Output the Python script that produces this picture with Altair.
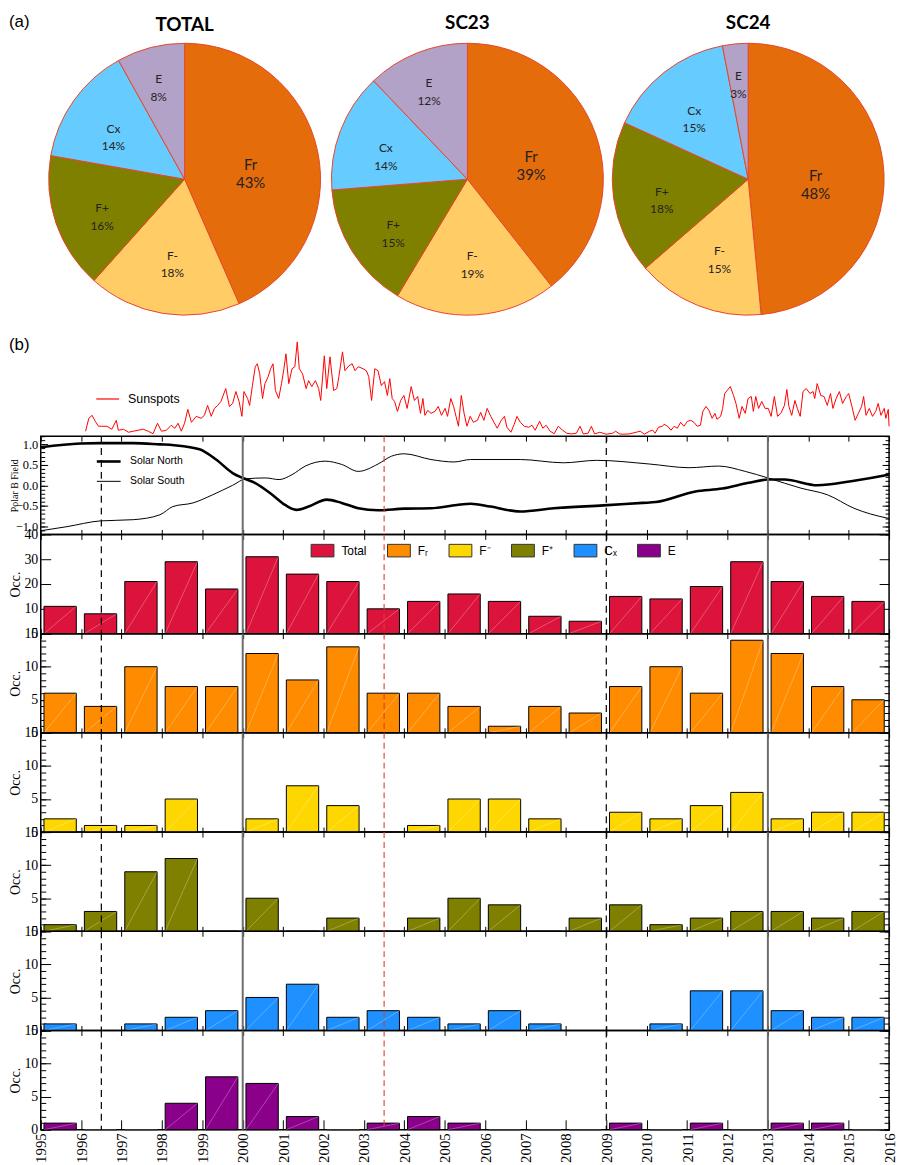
import altair as alt
import pandas as pd

# ---------------- data ----------------
pie_categories = ["Fr", "F-", "F+", "Cx", "E"]
pie_colors = ["#E46C0A", "#FFCC66", "#808000", "#66CCFF", "#B3A2C7"]
pie_titles = ["TOTAL", "SC23", "SC24"]
pie_total = [43, 18, 16, 14, 8]
pie_sc23 = [39, 19, 15, 14, 12]
pie_sc24 = [48, 15, 18, 15, 3]

years = list(range(1995, 2016))
tick_years = list(range(1995, 2017))
occ_total = [11, 8, 21, 29, 18, 31, 24, 21, 10, 13, 16, 13, 7, 5, 15, 14, 19, 29, 21, 15, 13]
occ_fr = [6, 4, 10, 7, 7, 12, 8, 13, 6, 6, 4, 1, 4, 3, 7, 10, 6, 14, 12, 7, 5]
occ_fminus = [2, 1, 1, 5, 0, 2, 7, 4, 0, 1, 5, 5, 2, 0, 3, 2, 4, 6, 2, 3, 3]
occ_fplus = [1, 3, 9, 11, 0, 5, 0, 2, 0, 2, 5, 4, 0, 2, 4, 1, 2, 3, 3, 2, 3]
occ_cx = [1, 0, 1, 2, 3, 5, 7, 2, 3, 2, 1, 3, 1, 0, 0, 1, 6, 6, 3, 2, 2]
occ_e = [1, 0, 0, 4, 8, 7, 2, 0, 1, 2, 1, 0, 0, 0, 1, 0, 1, 0, 1, 1, 0]

series_labels = ["Total", "Fᵣ", "F⁻", "F⁺", "Cₓ", "E"]
series_colors = ["#DC143C", "#FF8C00", "#FFD700", "#808000", "#1E90FF", "#8B008B"]

sunspot_points = [
    (1996.11, 3), (1996.19, 16), (1996.27, 19), (1996.35, 13), (1996.43, 8), (1996.51, 8),
    (1996.64, 8), (1996.76, 5), (1996.87, 14), (1996.92, 4), (1997.05, 5), (1997.17, 2),
    (1997.29, 3), (1997.41, 4), (1997.54, 5), (1997.66, 3), (1997.78, 0.5), (1997.89, 11),
    (1997.99, 3), (1998.11, 4), (1998.23, 9), (1998.32, 6), (1998.40, 11), (1998.48, 3),
    (1998.56, 11), (1998.64, 25), (1998.73, 12), (1998.85, 18), (1998.97, 16), (1999.05, 19),
    (1999.13, 29), (1999.22, 18), (1999.30, 26), (1999.38, 29), (1999.46, 33), (1999.58, 46),
    (1999.67, 28), (1999.75, 31), (1999.83, 43), (1999.91, 33), (1999.98, 18), (2000.03, 43),
    (2000.12, 36), (2000.17, 29), (2000.24, 49), (2000.31, 68), (2000.36, 71), (2000.42, 61),
    (2000.49, 36), (2000.55, 51), (2000.63, 58), (2000.69, 66), (2000.75, 71), (2000.81, 44),
    (2000.89, 36), (2000.96, 51), (2001.02, 66), (2001.07, 81), (2001.14, 51), (2001.22, 66),
    (2001.29, 68), (2001.35, 93), (2001.40, 66), (2001.48, 61), (2001.57, 46), (2001.63, 54),
    (2001.71, 48), (2001.80, 54), (2001.88, 46), (2001.93, 34), (2002.02, 79), (2002.08, 46),
    (2002.16, 78), (2002.25, 44), (2002.33, 46), (2002.38, 58), (2002.47, 83), (2002.53, 64),
    (2002.63, 69), (2002.71, 71), (2002.78, 64), (2002.86, 68),
    (2002.98, 66), (2003.06, 64), (2003.12, 58), (2003.19, 34), (2003.27, 66), (2003.35, 64),
    (2003.43, 49), (2003.51, 53), (2003.58, 39), (2003.64, 56), (2003.70, 36), (2003.76, 33),
    (2003.83, 23), (2003.91, 34), (2003.99, 39), (2004.07, 26), (2004.17, 48), (2004.25, 34),
    (2004.33, 38), (2004.40, 21), (2004.46, 36), (2004.51, 19), (2004.58, 24), (2004.66, 21),
    (2004.76, 23), (2004.84, 28), (2004.92, 19), (2005.01, 26), (2005.07, 18), (2005.15, 36),
    (2005.22, 28), (2005.28, 18), (2005.34, 8), (2005.41, 39), (2005.48, 21), (2005.55, 8),
    (2005.63, 18), (2005.71, 12), (2005.81, 14), (2005.89, 22), (2005.97, 14), (2006.05, 26),
    (2006.14, 18), (2006.22, 12), (2006.30, 6), (2006.40, 14), (2006.48, 18), (2006.54, 7),
    (2006.64, 2), (2006.72, 10), (2006.79, 18), (2006.87, 12), (2006.97, 8), (2007.08, 7),
    (2007.16, 9), (2007.24, 4), (2007.35, 13), (2007.43, 6), (2007.51, 9), (2007.61, 3),
    (2007.71, 0.5), (2007.81, 8), (2007.92, 4), (2008.02, 1), (2008.14, 0.3), (2008.26, 1),
    (2008.35, 8), (2008.43, 0.3), (2008.55, 1), (2008.63, 8), (2008.71, 0.3), (2008.84, 2),
    (2009.00, 0), (2009.16, 1), (2009.23, 3), (2009.33, 0.3),
    (2009.41, 0), (2009.57, 0.3), (2009.74, 2), (2009.84, 3), (2009.94, 0), (2010.07, 3),
    (2010.15, 4), (2010.21, 1), (2010.29, 7), (2010.39, 8), (2010.43, 10), (2010.52, 8),
    (2010.60, 4), (2010.68, 8), (2010.76, 6), (2010.84, 12), (2010.92, 8), (2011.01, 13),
    (2011.09, 14), (2011.17, 12), (2011.25, 8), (2011.33, 9), (2011.39, 23), (2011.47, 28),
    (2011.54, 24), (2011.62, 16), (2011.69, 21), (2011.74, 15), (2011.83, 18), (2011.88, 26),
    (2011.93, 41), (2011.99, 44), (2012.07, 48), (2012.15, 39), (2012.21, 31), (2012.29, 16),
    (2012.36, 28), (2012.44, 21), (2012.51, 36), (2012.59, 38), (2012.64, 23), (2012.70, 38),
    (2012.77, 26), (2012.85, 33), (2012.93, 26), (2013.01, 26), (2013.08, 18), (2013.16, 38),
    (2013.24, 18), (2013.32, 21), (2013.41, 29), (2013.47, 45), (2013.52, 28), (2013.59, 19),
    (2013.67, 34), (2013.73, 26), (2013.80, 18), (2013.87, 43), (2013.95, 46), (2014.04, 41),
    (2014.12, 43), (2014.16, 36), (2014.22, 51), (2014.31, 39), (2014.39, 38), (2014.47, 29),
    (2014.55, 41), (2014.61, 26), (2014.69, 36), (2014.77, 43), (2014.85, 31), (2014.94, 38),
    (2015.00, 41), (2015.08, 28), (2015.16, 14), (2015.24, 21), (2015.32, 28), (2015.37, 38),
    (2015.43, 19), (2015.51, 26), (2015.59, 18), (2015.67, 23), (2015.73, 31), (2015.80, 19),
    (2015.88, 26), (2015.92, 16), (2015.98, 25), (2016.00, 8),
]

north_points = [
    (1995.0, 0.93), (1995.98, 1.02), (1996.47, 1.03), (1997.29, 1.03), (1997.95, 1.00),
    (1998.3, 0.98), (1998.93, 0.88), (1999.34, 0.63), (1999.75, 0.30), (2000.0, 0.18),
    (2000.3, 0.06), (2000.73, -0.23), (2001.05, -0.48), (2001.33, -0.60), (2001.63, -0.52),
    (2002.08, -0.35), (2002.45, -0.43), (2002.86, -0.56), (2003.35, -0.61), (2004.0, -0.57),
    (2004.66, -0.56), (2005.3, -0.48), (2005.64, -0.45), (2006.13, -0.52), (2006.87, -0.64),
    (2007.7, -0.56), (2008.93, -0.49), (2009.9, -0.43), (2010.23, -0.41), (2011.21, -0.15),
    (2011.87, -0.08), (2012.52, 0.06), (2013.0, 0.14), (2013.41, 0.14), (2014.23, 0.0),
    (2015.06, 0.10), (2015.95, 0.25), (2016.0, 0.26),
]
south_points = [
    (1995.0, -1.11), (1995.65, -1.01), (1996.47, -0.87), (1997.29, -0.84), (1997.95, -0.72),
    (1998.27, -0.52), (1998.77, -0.43), (1999.26, -0.23), (1999.75, 0.0), (2000.08, 0.16),
    (2000.57, 0.18), (2000.9, 0.14), (2001.22, 0.26), (2001.55, 0.47), (2002.04, 0.59),
    (2002.45, 0.51), (2002.86, 0.34), (2003.35, 0.52), (2003.68, 0.71), (2004.0, 0.77),
    (2004.66, 0.63), (2005.23, 0.57), (2005.64, 0.63), (2006.87, 0.63), (2007.94, 0.55),
    (2008.76, 0.61), (2010.07, 0.52), (2011.05, 0.43), (2011.78, 0.47), (2012.44, 0.34),
    (2013.0, 0.18), (2013.82, -0.07), (2014.47, -0.23), (2015.13, -0.56), (2015.95, -0.80),
    (2016.0, -0.81),
]

event_dashed_black = [1996.5, 2009.0]
event_solid_gray = [2000.0, 2013.0]
event_dashed_red = [2003.5]

# ---------------- layout constants ----------------
W = 855
PANEL_H = 100
SERIF = "Liberation Serif"
SANS = "Liberation Sans"
xscale = alt.Scale(domain=[1995, 2016], nice=False, zero=False)
frame = alt.ViewBackground(stroke="black", strokeWidth=1.5)


# ---------------- pies ----------------
def pie(title, vals, width, tag=None):
    df = pd.DataFrame({"cat": pie_categories, "pct": vals, "idx": list(range(len(vals)))})
    arcs = alt.Chart(df).mark_arc(radius=137, stroke="#E8452C", strokeWidth=1).encode(
        theta=alt.Theta("pct:Q", stack=True),
        order=alt.Order("idx:Q"),
        color=alt.Color("cat:N", scale=alt.Scale(domain=pie_categories, range=pie_colors), legend=None),
    )
    text = alt.Chart(df).transform_window(
        cum="sum(pct)", sort=[alt.SortField("idx")]
    ).transform_calculate(
        mid="datum.cum - datum.pct / 2",
        lbl="datum.cat + '\\n' + datum.pct + '%'",
        lr="datum.cat == 'Fr' ? 68 : (datum.cat == 'E' ? 104 : (datum.cat == 'F-' ? 78 : 88))",
    ).mark_text(lineBreak="\n", font="Lato", color="#222222", align="center",
                baseline="middle", lineHeight=18).encode(
        theta=alt.Theta("mid:Q", stack=False),
        radius=alt.Radius("lr:Q", scale=None),
        text="lbl:N",
        size=alt.condition("datum.cat == 'Fr'", alt.value(15), alt.value(12)),
    )
    layers = [arcs, text]
    title_offset = 8
    if tag:
        layers.append(
            alt.Chart(pd.DataFrame({"t": [tag]})).mark_text(
                align="left", baseline="middle", font=SANS, fontSize=17, color="black"
            ).encode(text="t:N", x=alt.value(-32), y=alt.value(-21))
        )
        title_offset = {"expr": "-22"}
    return alt.layer(*layers).properties(
        width=width, height=274,
        title=alt.Title(title, font="Lato", fontSize=19, fontWeight="bold", offset=title_offset,
                        anchor="middle", color="black", frame="group"),
    )


def make_pie_row():
    return alt.hconcat(
        pie(pie_titles[0], pie_total, 290, "(a)"),
        pie(pie_titles[1], pie_sc23, 274),
        pie(pie_titles[2], pie_sc24, 288),
        spacing=0,
    )


# ---------------- helpers for panels ----------------
def vlines():
    out = []
    specs = [
        (event_dashed_black, dict(color="black", strokeWidth=1.2, strokeDash=[7, 5])),
        (event_solid_gray, dict(color="#6E6E6E", strokeWidth=2)),
        (event_dashed_red, dict(color="#E03A2E", strokeWidth=1.1, strokeDash=[6, 4])),
    ]
    for vals, style in specs:
        out.append(
            alt.Chart(pd.DataFrame({"yr": vals})).mark_rule(**style).encode(
                x=alt.X("yr:Q", scale=xscale, axis=None)
            )
        )
    return out


def axis_specs(major, minor, title, fmt, lab_size, title_size, major_len, minor_len, title_x):
    left_major = alt.Axis(orient="left", values=major, tickSize=major_len, offset=-major_len,
                          domain=False, grid=False, format=fmt, labelFontSize=lab_size,
                          labelPadding=3, labelOverlap=False, title=title,
                          titleFontSize=title_size, titleX=title_x)
    extra = [alt.Axis(orient="right", values=major, tickSize=major_len, offset=-major_len,
                      domain=False, grid=False, labels=False, title=None)]
    if minor:
        for o in ["left", "right"]:
            extra.append(alt.Axis(orient=o, values=minor, tickSize=minor_len, offset=-minor_len,
                                  domain=False, grid=False, labels=False, title=None))
    return left_major, extra


def x_axis(last=False):
    if last:
        return alt.Axis(orient="bottom", values=tick_years, tickSize=10, offset=-10, domain=False,
                        grid=False, format="d", labelAngle=270, labelFontSize=15, labelPadding=3,
                        labelFlush=False, labelOverlap=False, title=None)
    return alt.Axis(orient="bottom", values=tick_years, tickSize=10, offset=-5, domain=False,
                    grid=False, labels=False, title=None)


def bar_panel(vals, label, ydom, major, minor, last=False, with_legend=False):
    df = pd.DataFrame({"year": years, "n": vals})
    ysc = alt.Scale(domain=ydom, nice=False, zero=False)
    if with_legend:
        leg = alt.Legend(orient="none", legendX=272, legendY=4, direction="horizontal",
                         columns=6, title=None, symbolType="M-1,-0.55H1V0.55H-1Z",
                         symbolSize=529, symbolStrokeColor="#333333", symbolStrokeWidth=1,
                         symbolOpacity=1, labelFont=SANS, labelFontSize=12, labelOffset=7,
                         columnPadding=18)
    else:
        leg = None
    left_major, extra = axis_specs(major, minor, "Occ.", "d", 14, 14, 10, 5, -28)
    base = alt.Chart(df).transform_calculate(
        x0="datum.year + 0.08", x1="datum.year + 0.88", lbl=f"'{label}'", z="0"
    )
    bars = base.mark_bar(stroke="black", strokeWidth=1).encode(
        x=alt.X("x0:Q", scale=xscale, axis=x_axis(last)),
        x2="x1:Q",
        y=alt.Y("n:Q", scale=ysc, axis=left_major),
        y2="z:Q",
        color=alt.Color("lbl:N", scale=alt.Scale(domain=series_labels, range=series_colors),
                        legend=leg),
    )
    diag = base.mark_rule(color="white", opacity=0.35, strokeWidth=0.8).encode(
        x=alt.X("x0:Q", scale=xscale, axis=None),
        x2="x1:Q",
        y=alt.Y("z:Q", scale=ysc, axis=None),
        y2="n:Q",
    )
    layers = [bars, diag] + vlines()
    for ax in extra:
        layers.append(base.mark_bar(opacity=0).encode(
            x=alt.X("x0:Q", scale=xscale, axis=None), x2="x1:Q",
            y=alt.Y("n:Q", scale=ysc, axis=ax), y2="z:Q"))
    return alt.layer(*layers).resolve_axis(
        x="independent", y="independent"
    ).properties(width=W, height=PANEL_H, view=frame)


def make_sun_panel():
    sun_df = pd.DataFrame(sunspot_points, columns=["yr", "v"])
    leg = alt.Legend(orient="none", legendX=55, legendY=45, title=None,
                     symbolType="stroke", symbolSize=529, symbolStrokeWidth=1.2,
                     labelFont=SANS, labelFontSize=12.5, labelOffset=8)
    sun_line = alt.Chart(sun_df).transform_calculate(lbl="'Sunspots'").mark_line(strokeWidth=1).encode(
        x=alt.X("yr:Q", scale=xscale, axis=None),
        y=alt.Y("v:Q", scale=alt.Scale(domain=[-2, 93], nice=False, zero=False), axis=None),
        color=alt.Color("lbl:N", scale=alt.Scale(domain=["Sunspots"], range=["#FF0000"]), legend=leg),
    )
    tag = alt.Chart(pd.DataFrame({"t": ["(b)"]})).mark_text(
        align="left", baseline="middle", font=SANS, fontSize=17, color="black"
    ).encode(text="t:N", x=alt.value(-32), y=alt.value(3))
    return alt.layer(sun_line, tag).properties(width=W, height=95)


def make_polar_panel():
    polar_df = pd.concat([
        pd.DataFrame(north_points, columns=["yr", "v"]).assign(series="Solar North"),
        pd.DataFrame(south_points, columns=["yr", "v"]).assign(series="Solar South"),
    ])
    psc = alt.Scale(domain=[-1.2, 1.2], nice=False, zero=False)
    polar_minor = [round(-1.2 + 0.1 * i, 1) for i in range(25)]
    left_major, extra = axis_specs([-1.0, -0.5, 0.0, 0.5, 1.0], polar_minor, "Polar B Field",
                                   ".1f", 12.5, 10, 7, 4, -28)
    leg = alt.Legend(orient="none", legendX=55, legendY=12, title=None, symbolType="stroke",
                     symbolSize=576, symbolStrokeColor="black", labelFont=SANS,
                     labelFontSize=10.5, labelOffset=8)
    base = alt.Chart(polar_df)
    lines = base.mark_line(color="black", interpolate="monotone").encode(
        x=alt.X("yr:Q", scale=xscale, axis=x_axis()),
        y=alt.Y("v:Q", scale=psc, axis=left_major),
        strokeWidth=alt.StrokeWidth(
            "series:O", scale=alt.Scale(domain=["Solar North", "Solar South"], range=[2.6, 1.0]),
            legend=leg),
    )
    top_axis = alt.Axis(orient="top", values=tick_years, tickSize=5, offset=-5, domain=False,
                        grid=False, labels=False, title=None)
    layers = [lines] + vlines()
    layers.append(base.mark_line(opacity=0).encode(
        x=alt.X("yr:Q", scale=xscale, axis=top_axis), y=alt.Y("v:Q", scale=psc, axis=None),
        detail="series:N"))
    for ax in extra:
        layers.append(base.mark_line(opacity=0).encode(
            x=alt.X("yr:Q", scale=xscale, axis=None), y=alt.Y("v:Q", scale=psc, axis=ax),
            detail="series:N"))
    return alt.layer(*layers).resolve_axis(
        x="independent", y="independent"
    ).properties(width=W, height=99, view=frame)


minor15 = list(range(0, 16))
panels = [
    make_sun_panel(),
    make_polar_panel(),
    bar_panel(occ_total, series_labels[0], [0, 40], [0, 10, 20, 30, 40], None, with_legend=True),
    bar_panel(occ_fr, series_labels[1], [0, 15], [0, 5, 10, 15], minor15),
    bar_panel(occ_fminus, series_labels[2], [0, 15], [0, 5, 10, 15], minor15),
    bar_panel(occ_fplus, series_labels[3], [0, 15], [0, 5, 10, 15], minor15),
    bar_panel(occ_cx, series_labels[4], [0, 15], [0, 5, 10, 15], minor15),
    bar_panel(occ_e, series_labels[5], [0, 15], [0, 5, 10, 15], minor15, last=True),
]
lower = alt.vconcat(*panels, spacing=0, bounds="flush").resolve_scale(
    color="independent", strokeWidth="independent"
)

chart = alt.vconcat(make_pie_row(), lower, spacing=17).resolve_scale(
    color="independent", strokeWidth="independent"
).properties(padding=0).configure_view(stroke="transparent").configure_axis(
    labelFont=SERIF, titleFont=SERIF, titleFontWeight="normal", tickColor="black",
    labelColor="black", titleColor="black", tickWidth=1
).configure_legend(labelFont=SANS, labelColor="black")

chart.save("out.html", embed_options={"renderer": "svg", "actions": False})
